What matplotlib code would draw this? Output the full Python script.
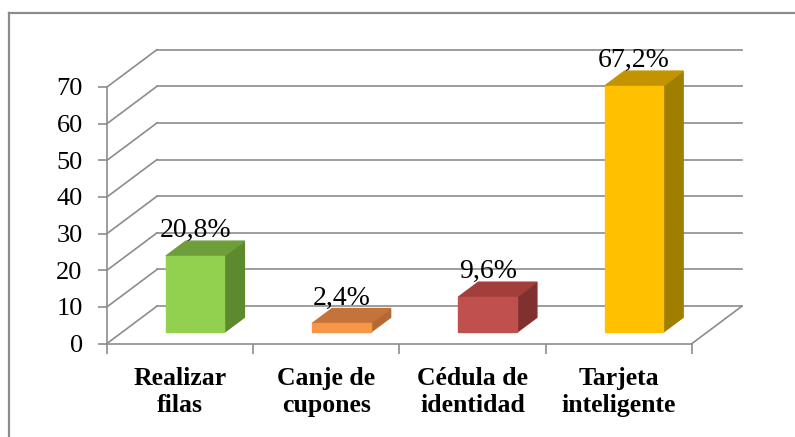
import matplotlib
matplotlib.use("Agg")
import matplotlib.pyplot as plt
from matplotlib.lines import Line2D

categories = ["Realizar\nfilas", "Canje de\ncupones", "Cédula de\nidentidad", "Tarjeta\ninteligente"]
values = [20.8, 2.4, 9.6, 67.2]
value_labels = ["20,8%", "2,4%", "9,6%", "67,2%"]
yticks = [0, 10, 20, 30, 40, 50, 60, 70]

front_colors = ["#92D050", "#F79646", "#C0504D", "#FFC000"]
top_colors = ["#6E9E3A", "#C4733A", "#A23E3B", "#C39300"]
side_colors = ["#5E8A2E", "#B56A33", "#7F302F", "#A07E00"]

GRID = "#8C8C8C"
DX, DY = 0.342, 10.2   # back wall offset (category units, value units)
D0, D1 = 0.3, 0.7      # bar depth range as a fraction of the offset
W0, W1 = 0.3, 0.7      # bar extent inside its category slot

plt.rcParams["font.family"] = ["Liberation Serif", "DejaVu Serif"]

fig = plt.figure(figsize=(7.95, 4.37), dpi=100)
ax = fig.add_axes([107 / 795, (437 - 343.5) / 437, 585 / 795, 256.5 / 437])
n = len(categories)
ax.set_xlim(0, n)
ax.set_ylim(0, yticks[-1])

# walls and floor
for v in yticks:
    ax.plot([0, DX], [v, v + DY], color=GRID, lw=1.2, clip_on=False, zorder=1)
    ax.plot([DX, n + DX], [v + DY, v + DY], color=GRID, lw=1.2, clip_on=False, zorder=1)
ax.plot([n, n + DX], [0, DY], color=GRID, lw=1.2, clip_on=False, zorder=1)

# 3d-ish bars
for i, v in enumerate(values):
    x0, x1 = i + W0, i + W1
    fx0, fx1 = x0 + D0 * DX, x1 + D0 * DX
    bx0, bx1 = x0 + D1 * DX, x1 + D1 * DX
    fy, by = D0 * DY, D1 * DY
    ax.fill([fx1, bx1, bx1, fx1], [fy, by, v + by, v + fy],
            color=side_colors[i], clip_on=False, zorder=3)
    ax.fill([fx0, fx1, bx1, bx0], [v + fy, v + fy, v + by, v + by],
            color=top_colors[i], clip_on=False, zorder=3)
    ax.fill([fx0, fx1, fx1, fx0], [fy, fy, v + fy, v + fy],
            color=front_colors[i], clip_on=False, zorder=4)
    ax.annotate(value_labels[i], ((fx0 + fx1) / 2, v + fy), xytext=(0, 13.5),
                textcoords="offset points", ha="center", va="baseline",
                fontsize=20, zorder=5, annotation_clip=False)

for side in ["top", "right"]:
    ax.spines[side].set_visible(False)
for side in ["left", "bottom"]:
    ax.spines[side].set_color(GRID)
    ax.spines[side].set_linewidth(1.2)
ax.patch.set_visible(False)

ax.set_yticks(yticks)
ax.tick_params(axis="y", length=6.5, width=1.2, color=GRID, pad=11, labelsize=19)
ax.set_xticks(range(n + 1))
ax.set_xticklabels([])
ax.tick_params(axis="x", which="major", length=7, width=1.2, color=GRID)
ax.set_xticks([i + 0.5 for i in range(n)], minor=True)
ax.set_xticklabels(categories, minor=True, fontweight="bold", fontsize=18.5,
                   linespacing=1.2)
ax.tick_params(axis="x", which="minor", length=0, pad=17)

# chart border (top and left edges are visible)
fig.add_artist(Line2D([9 / 795, 1], [1 - 13 / 437] * 2, transform=fig.transFigure,
                      color=GRID, lw=1.6))
fig.add_artist(Line2D([9 / 795] * 2, [0, 1 - 13 / 437], transform=fig.transFigure,
                      color=GRID, lw=1.6))

fig.savefig("out.png", dpi=100)
